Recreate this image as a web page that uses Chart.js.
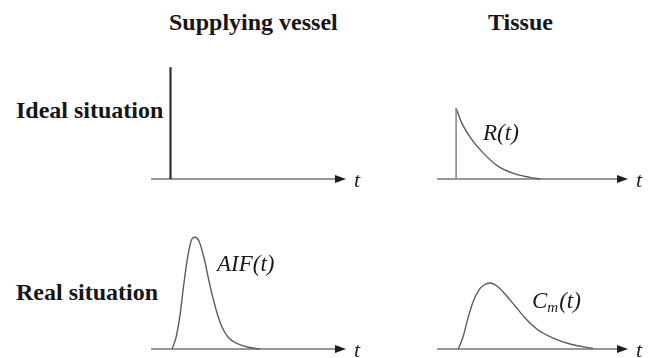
<!DOCTYPE html>
<html>
<head>
<meta charset="utf-8">
<title>Supplying vessel / Tissue</title>
<script src="https://cdn.jsdelivr.net/npm/chart.js@4.4.1/dist/chart.umd.min.js"></script>
<style>
  html, body { margin: 0; padding: 0; background: #fff; overflow: hidden; width: 648px; height: 358px; }
  .wrap { position: relative; width: 648px; height: 358px; }
  .head {
    position: absolute;
    font-family: "Liberation Serif", "Tinos", "Times New Roman", "Times", "Nimbus Roman", "FreeSerif", "Noto Serif", "DejaVu Serif", Georgia, serif;
    font-weight: bold; font-size: 24px; line-height: 24px;
    color: #151515; white-space: nowrap;
  }
  canvas { position: absolute; }
</style>
</head>
<body>
<div class="wrap">
  <div class="head" style="left:169px; top:10px;">Supplying vessel</div>
  <div class="head" style="left:488px; top:10px;">Tissue</div>
  <div class="head" style="left:16px; top:98px;">Ideal situation</div>
  <div class="head" style="left:16px; top:280px;">Real situation</div>

  <canvas id="idealVessel" width="245" height="142" style="left:131px; top:46px;"></canvas>
  <canvas id="idealTissue" width="231" height="142" style="left:417px; top:46px;"></canvas>
  <canvas id="realVessel"  width="245" height="142" style="left:131px; top:216px;"></canvas>
  <canvas id="realTissue"  width="231" height="142" style="left:417px; top:216px;"></canvas>
</div>

<script>
// Time axis shared by all four panels; the bolus arrives at t = 0.
const T_MIN = -2, T_MAX = 18;
const Y_MIN = 0, Y_MAX = 11;

// Ideal arterial input: an instantaneous bolus.
const bolusT = [0, 0];
const bolusY = [0, 10];

// Tissue residue function R(t): jump at t = 0, then wash-out.
const residueStepT = [0, 0];
const residueStepY = [0, 6.35];
const residueT = [0, 0.6, 1.5, 2.7, 4.3, 6.0, 7.7, 8.8];
const residueY = [6.35, 5.0, 3.7, 2.45, 1.2, 0.5, 0.15, 0];

// Measured arterial input function AIF(t).
const aifT = [0.15, 0.56, 0.97, 1.38, 1.79, 2.2, 2.51, 2.92, 3.44, 3.95, 4.46, 5.08, 5.9, 6.92, 8.15, 9.18];
const aifY = [0, 1.0, 3.0, 5.9, 8.4, 9.84, 10.0, 9.66, 8.14, 6.08, 4.2, 2.4, 1.07, 0.45, 0.13, 0];

// Measured tissue concentration Cm(t).
const cmT = [0.23, 0.72, 1.19, 1.77, 2.4, 2.92, 3.55, 4.28, 5.12, 6.17, 7.32, 8.58, 10.15, 11.93, 14.33];
const cmY = [0, 1.07, 2.6, 4.2, 5.28, 5.72, 5.9, 5.63, 4.92, 3.85, 2.68, 1.7, 0.98, 0.45, 0.04];

// Where each curve name sits (time, value of its text baseline-left corner).
const residueLabelAt = [2.82, 3.49];
const aifLabelAt = [4.77, 6.98];
const cmLabelAt = [7.95, 3.67];

const SERIF = '"Liberation Serif", "Tinos", "Times New Roman", "Times", "Nimbus Roman", "FreeSerif", "Noto Serif", "DejaVu Serif", Georgia, serif';

function pts(ts, ys) {
  return ts.map((t, i) => ({ x: t, y: ys[i] }));
}

// Draws the time axis with its arrow head and the italic "t",
// plus the curve name next to the curve.
const timeAxisPlugin = {
  id: 'timeAxis',
  beforeDatasetsDraw(chart) {
    const { ctx, chartArea } = chart;
    const y0 = chart.scales.y.getPixelForValue(0);
    const left = chartArea.left, right = chartArea.right;
    ctx.save();
    ctx.strokeStyle = '#747474';
    ctx.lineWidth = 1.5;
    ctx.beginPath();
    ctx.moveTo(left, y0);
    ctx.lineTo(right - 8, y0);
    ctx.stroke();
    ctx.fillStyle = '#1e1e1e';
    ctx.beginPath();
    ctx.moveTo(right, y0);
    ctx.lineTo(right - 11, y0 - 4);
    ctx.lineTo(right - 11, y0 + 4);
    ctx.closePath();
    ctx.fill();
    ctx.font = 'italic 22px ' + SERIF;
    ctx.fillStyle = '#222';
    ctx.textBaseline = 'alphabetic';
    ctx.fillText('t', right + 8, y0 + 8);
    ctx.restore();
  },
  afterDatasetsDraw(chart, args, opts) {
    if (!opts || !opts.at) return;
    const { ctx } = chart;
    let x = chart.scales.x.getPixelForValue(opts.at[0]);
    const y = chart.scales.y.getPixelForValue(opts.at[1]);
    ctx.save();
    ctx.fillStyle = '#1a1a1a';
    ctx.textBaseline = 'alphabetic';
    ctx.font = 'italic 23px ' + SERIF;
    ctx.fillText(opts.main, x, y);
    x += ctx.measureText(opts.main).width;
    if (opts.sub) {
      ctx.font = 'italic 15px ' + SERIF;
      ctx.fillText(opts.sub, x, y + 4);
      x += ctx.measureText(opts.sub).width + 1;
      ctx.font = 'italic 23px ' + SERIF;
    }
    ctx.fillText(opts.rest, x, y);
    ctx.restore();
  }
};

function curve(data, extra) {
  return Object.assign({
    data,
    borderColor: '#5c5c5c',
    borderWidth: 1.4,
    pointRadius: 0,
    fill: false,
    clip: false,
    cubicInterpolationMode: 'monotone'
  }, extra || {});
}

function makePanel(id, datasets, rightPad, label) {
  return new Chart(document.getElementById(id), {
    type: 'line',
    data: { datasets },
    options: {
      responsive: false,
      animation: false,
      events: [],
      layout: { padding: { left: 20, right: rightPad, top: 10, bottom: 9 } },
      scales: {
        x: { type: 'linear', min: T_MIN, max: T_MAX, display: false },
        y: { type: 'linear', min: Y_MIN, max: Y_MAX, display: false }
      },
      plugins: {
        legend: { display: false },
        tooltip: { enabled: false },
        timeAxis: label || {}
      }
    },
    plugins: [timeAxisPlugin]
  });
}

makePanel('idealVessel', [
  curve(pts(bolusT, bolusY), { borderColor: '#2e2e2e', borderWidth: 2.2, cubicInterpolationMode: 'default', tension: 0 })
], 30);

makePanel('idealTissue', [
  curve(pts(residueStepT, residueStepY), { borderColor: '#8a8a8a', borderWidth: 1.6, cubicInterpolationMode: 'default', tension: 0 }),
  curve(pts(residueT, residueY))
], 20, { at: residueLabelAt, main: 'R', rest: '(t)' });

makePanel('realVessel', [
  curve(pts(aifT, aifY))
], 30, { at: aifLabelAt, main: 'AIF', rest: '(t)' });

makePanel('realTissue', [
  curve(pts(cmT, cmY))
], 20, { at: cmLabelAt, main: 'C', sub: 'm', rest: '(t)' });
</script>
</body>
</html>
